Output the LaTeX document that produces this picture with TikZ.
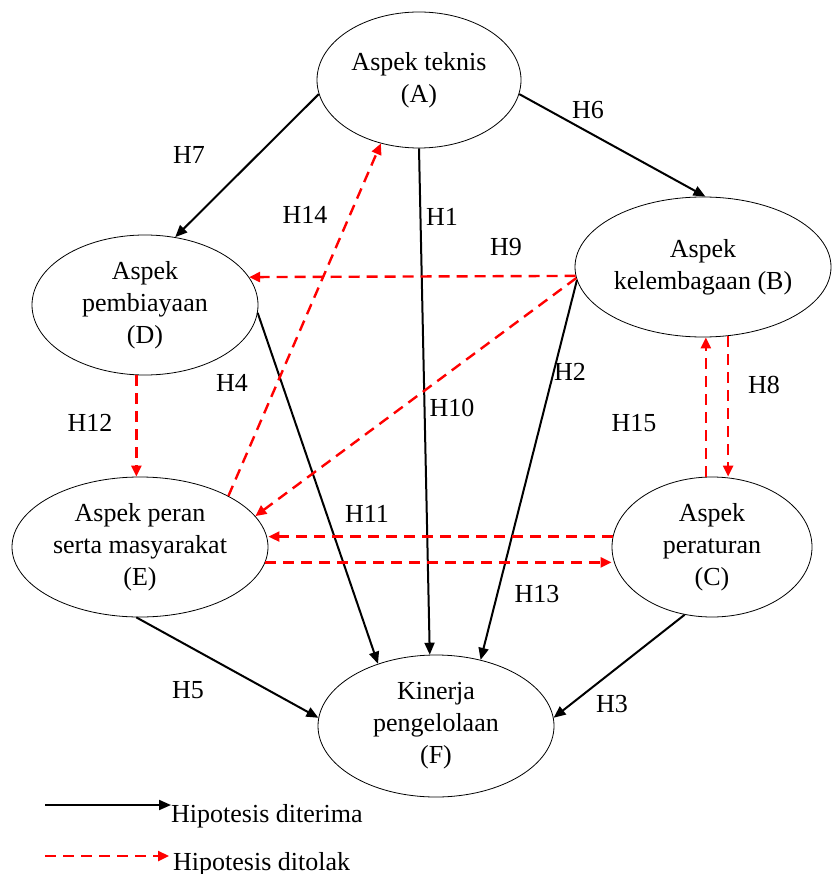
\documentclass[tikz,border=0pt]{standalone}
\usepackage{fontspec}
\setmainfont{Liberation Serif}
\usetikzlibrary{shapes.geometric,arrows.meta}
\begin{document}
\begin{tikzpicture}[x=1pt,y=-1pt,
  aspek/.style={draw, ellipse, line width=0.8pt, inner sep=0pt, align=center, font=\fontsize{26}{32}\selectfont},
  hlab/.style={inner sep=0pt, font=\fontsize{26}{32}\selectfont},
  terima/.style={line width=2pt, -{Triangle[length=12pt,width=10pt]}},
  tolak/.style={red, line width=2.4pt, dash pattern=on 11pt off 7pt, -{Triangle[length=11pt,width=10pt]}}]
\useasboundingbox (0,0) rectangle (831,874);
\node[aspek, minimum width=204pt, minimum height=136pt] (A) at (419,80) {Aspek teknis\\(A)};
\node[aspek, minimum width=256pt, minimum height=140pt] (B) at (703,267) {Aspek\\kelembagaan (B)};
\node[aspek, minimum width=226pt, minimum height=140pt] (D) at (145,305) {Aspek\\pembiayaan\\(D)};
\node[aspek, minimum width=256pt, minimum height=140pt] (E) at (140,547) {Aspek peran\\serta masyarakat\\(E)};
\node[aspek, minimum width=200pt, minimum height=140pt] (C) at (712,547) {Aspek\\peraturan\\(C)};
\node[aspek, minimum width=236pt, minimum height=142pt] (F) at (436,726) {Kinerja\\pengelolaan\\(F)};
\draw[terima] (A.188) -- (D.66);
\draw[terima] (A.352) -- (B.88);
\draw[terima] (A.270) -- (F.95);
\draw[terima] (B.186.5) -- (F.56.3);
\draw[terima] (D.356) -- (F.133.2);
\draw[terima] (E.267.5) -- (F.176);
\draw[terima] (C.248.2) -- (F.4);
\draw[tolak] (B.184.5) -- (D.15.1);
\draw[tolak] (B.185.5) -- (E.15.2);
\draw[tolak] (E.30) -- (A.239);
\draw[tolak] (D.263.5) -- (D.263.5 |- E.north);
\draw[tolak] (C.174.2) -- (C.174.2 -| E.east);
\draw[tolak] (E.353.2) -- (E.353.2 -| C.west);
\draw[tolak] (B.290) -- (B.290 |- C.north);
\draw[tolak] (C.95) -- (C.95 |- B.south);
\node[hlab] (h1) at (442,217) {H1};
\node[hlab] (h2) at (570,372) {H2};
\node[hlab] (h3) at (612,704) {H3};
\node[hlab] (h4) at (232,383) {H4};
\node[hlab] (h5) at (188,690) {H5};
\node[hlab] (h6) at (588,110) {H6};
\node[hlab] (h7) at (189,155) {H7};
\node[hlab] (h8) at (764,385) {H8};
\node[hlab] (h9) at (506,247) {H9};
\node[hlab] (h10) at (452,408) {H10};
\node[hlab] (h11) at (367,514) {H11};
\node[hlab] (h12) at (90,423) {H12};
\node[hlab] (h13) at (537,594) {H13};
\node[hlab] (h14) at (305,215) {H14};
\node[hlab] (h15) at (634,423) {H15};
\coordinate (accStart) at (45,805);
\node[hlab, anchor=base west] (accText) at (171,822) {Hipotesis diterima};
\draw[terima] (accStart) -- (accStart -| accText.west);
\coordinate (rejStart) at (45,856);
\node[hlab, anchor=base west] (rejText) at (173,870) {Hipotesis ditolak};
\draw[tolak, shorten >=4pt] (rejStart) -- (rejStart -| rejText.west);
\end{tikzpicture}
\end{document}
